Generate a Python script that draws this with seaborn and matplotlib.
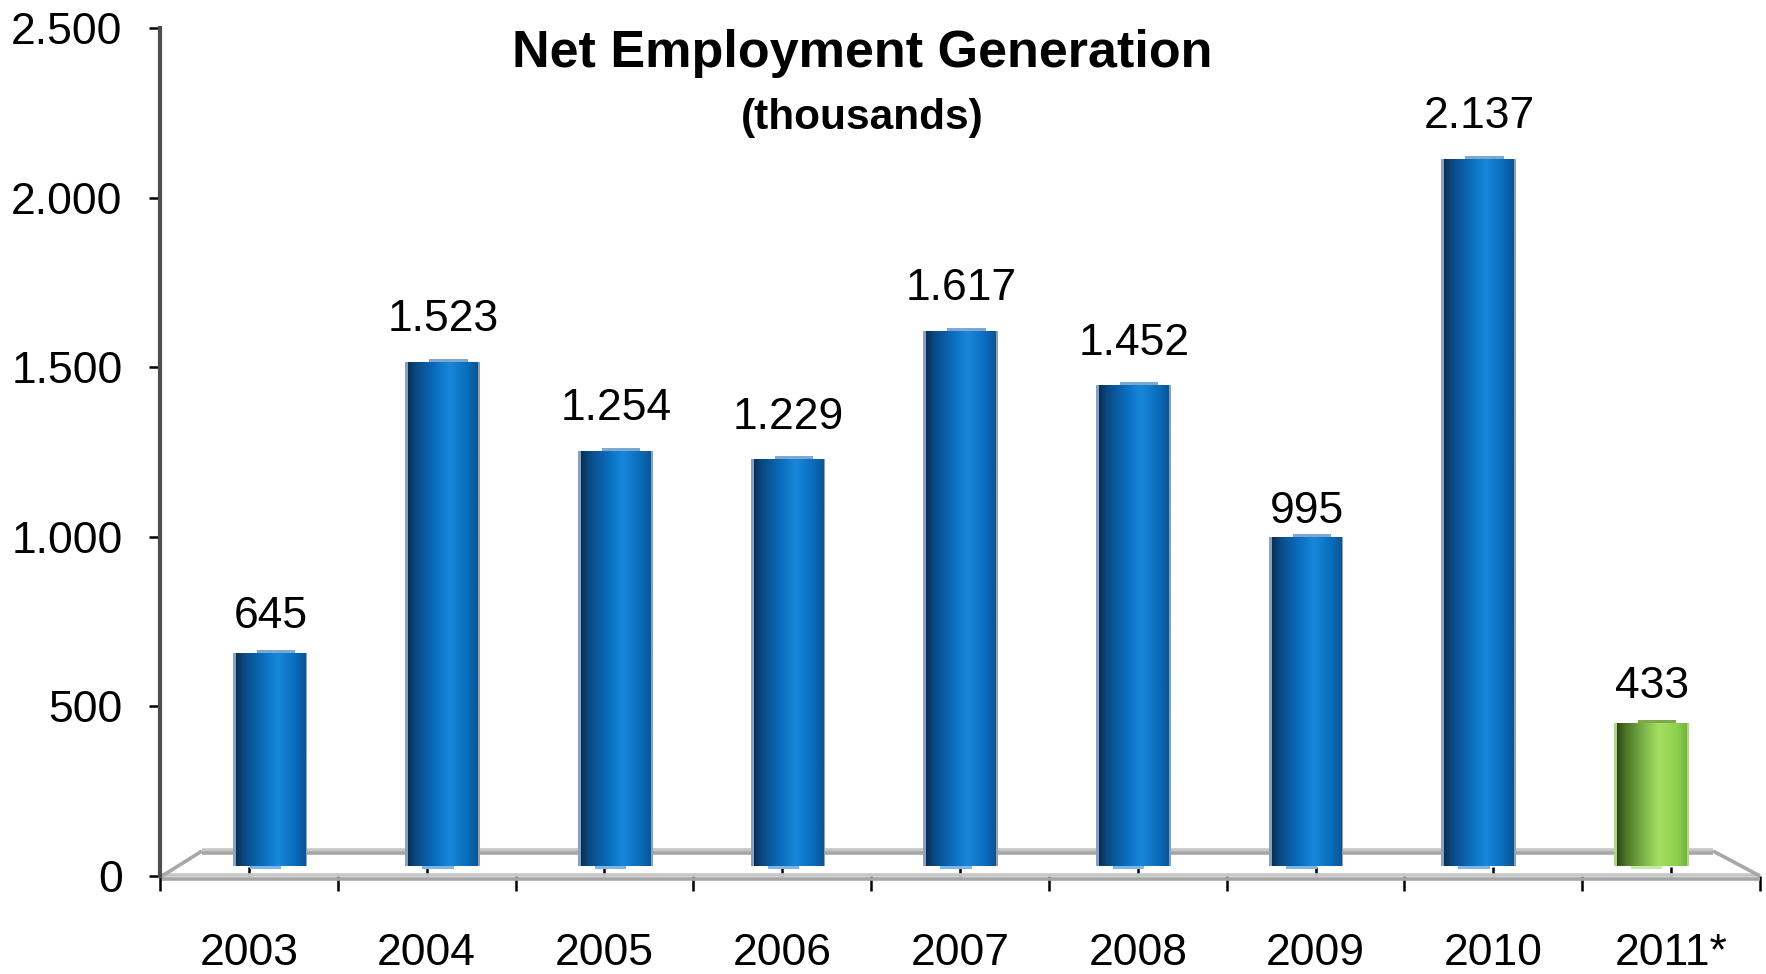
import numpy as np
import matplotlib
matplotlib.use("Agg")
import matplotlib.pyplot as plt
from matplotlib.colors import LinearSegmentedColormap
from matplotlib.lines import Line2D
from matplotlib.patches import Rectangle
import pandas as pd
import seaborn as sns

# ---------------- data ----------------
years = ["2003", "2004", "2005", "2006", "2007", "2008", "2009", "2010", "2011*"]
values = [645, 1523, 1254, 1229, 1617, 1452, 995, 2137, 433]
value_labels = ["645", "1.523", "1.254", "1.229", "1.617", "1.452", "995", "2.137", "433"]
kind = ["actual"] * 8 + ["partial"]
y_ticks = [0, 500, 1000, 1500, 2000, 2500]
y_tick_labels = ["0", "500", "1.000", "1.500", "2.000", "2.500"]
title = "Net Employment Generation"
subtitle = "(thousands)"

# label offsets above bar tops (points) - styling only
label_offsets = [18, 22, 22, 22, 22, 22, 10, 22, 18]

# ---------------- style ----------------
sns.set_theme(style="white")
plt.rcParams["font.family"] = ["Liberation Sans", "DejaVu Sans"]

W, H = 1766, 974
fig = plt.figure(figsize=(W / 100, H / 100), dpi=100)
fig.patch.set_facecolor("white")


def fx(x):
    return x / W


def fy(y):
    return (H - y) / H


# front (value axis / floor) axes
ax = fig.add_axes([fx(160), fy(876), fx(1760) - fx(160), fy(28) - fy(876)])
ax.set_zorder(0)
ax.set_facecolor("white")

# back (bar plane) axes, offset by the 3-D depth
bx = fig.add_axes([fx(184.2), fy(866), 1554 / W, 827.5 / H])
bx.set_zorder(1)
bx.patch.set_alpha(0)

df = pd.DataFrame({"year": years, "value": values, "kind": kind})
palette = {"actual": "#0a6cbc", "partial": "#8fd050"}
sns.barplot(data=df, x="year", y="value", hue="kind", palette=palette,
            width=0.405, dodge=False, legend=False, ax=bx)

cmaps = {
    "actual": LinearSegmentedColormap.from_list(
        "blue", [(0.0, "#0a2f55"), (0.12, "#0b4a85"), (0.40, "#0a6fc0"),
                 (0.60, "#1888da"), (0.85, "#0a6cbc"), (1.0, "#0a5595")]),
    "partial": LinearSegmentedColormap.from_list(
        "green", [(0.0, "#2e461a"), (0.12, "#4c7428"), (0.40, "#7fb84a"),
                  (0.60, "#a4e064"), (0.85, "#8fd050"), (1.0, "#78b440")]),
}
edge_cols = {"actual": "#86a2bf", "partial": "#b2d48e"}
cap_cols = {"actual": "#7ea8cf", "partial": "#7fa84a"}
refl_cols = {"actual": "#7fb6e6", "partial": "#c8e8a8"}

grad = np.linspace(0, 1, 256).reshape(1, -1)
px_x = 1 / 172.7   # one pixel in category units
px_y = 1 / 0.331   # one pixel in value units
for p in list(bx.patches):
    x0, y0 = p.get_x(), p.get_y()
    w, h = p.get_width(), p.get_height()
    if h <= 0:
        continue
    i = int(round(x0 + w / 2))
    k = kind[i]
    bx.add_patch(Rectangle((x0 - 3 * px_x, y0), w + 5 * px_x, h,
                           facecolor=edge_cols[k], edgecolor="none", zorder=2))
    bx.add_patch(Rectangle((x0 + 0.3 * w, y0 + h), 0.55 * w, 3 * px_y,
                           facecolor=cap_cols[k], edgecolor="none", zorder=2))
    bx.add_patch(Rectangle((x0 + 0.2 * w, y0 - 3 * px_y), 0.45 * w, 3 * px_y,
                           facecolor=refl_cols[k], edgecolor="none", zorder=2,
                           clip_on=False))
    im = bx.imshow(grad, cmap=cmaps[k], aspect="auto", interpolation="bicubic",
                   extent=[x0, x0 + w, y0, y0 + h], zorder=3)
    im.set_clip_path(p)

for i, (v, lbl) in enumerate(zip(values, value_labels)):
    bx.annotate(lbl, (i, v), xytext=(0, label_offsets[i]), textcoords="offset points",
                ha="center", va="baseline", fontsize=32, color="black", zorder=5)

bx.set_xlim(-0.5, 8.5)
bx.set_ylim(0, 2500)
bx.axis("off")

# front axes: ticks and spines
ax.set_xlim(-0.5, 8.5)
ax.set_ylim(0, 2500)
ax.set_yticks(y_ticks)
ax.set_yticklabels(y_tick_labels)
ax.set_xticks(np.arange(-0.5, 9, 1))
ax.set_xticklabels([])
ax.set_xticks(np.arange(len(years)), minor=True)
ax.set_xticklabels(years, minor=True)
ax.tick_params(axis="x", which="major", direction="out", length=11, width=1.8,
               color="black", bottom=True)
ax.tick_params(axis="x", which="minor", direction="in", length=6.5, width=1.8,
               color="black", bottom=True, pad=41, labelsize=32, labelcolor="black")
ax.tick_params(axis="y", direction="out", length=8, width=1.8, color="black",
               left=True, pad=19, labelsize=32, labelcolor="black")
for s in ["top", "right", "bottom"]:
    ax.spines[s].set_visible(False)
ax.spines["left"].set_color("#4d4d4d")
ax.spines["left"].set_linewidth(3)
ax.grid(False)


def floor_line(xs, ys, color, lw):
    ax.add_line(Line2D([fx(x) for x in xs], [fy(y) for y in ys],
                       transform=fig.transFigure, color=color, lw=lw,
                       clip_on=False, zorder=1, solid_capstyle="butt"))


# 3-D floor outline
floor_line([162, 1760], [874.5, 874.5], "#c6c6c6", 2.6)
floor_line([162, 1760], [878.5, 878.5], "#a6a6a6", 2.6)
floor_line([202, 1713], [849.5, 849.5], "#c6c6c6", 2.6)
floor_line([202, 1713], [853.0, 853.0], "#a6a6a6", 2.6)
floor_line([162, 202], [876, 851], "#a8a8a8", 2.6)
floor_line([1713, 1760], [851, 876], "#a8a8a8", 2.6)

# titles
fig.text(fx(862), fy(67), title, ha="center", va="baseline",
         fontsize=37.5, fontweight="bold", color="black")
fig.text(fx(862), fy(129), subtitle, ha="center", va="baseline",
         fontsize=30.5, fontweight="bold", color="black")

fig.savefig("out.png", dpi=100, facecolor="white")
